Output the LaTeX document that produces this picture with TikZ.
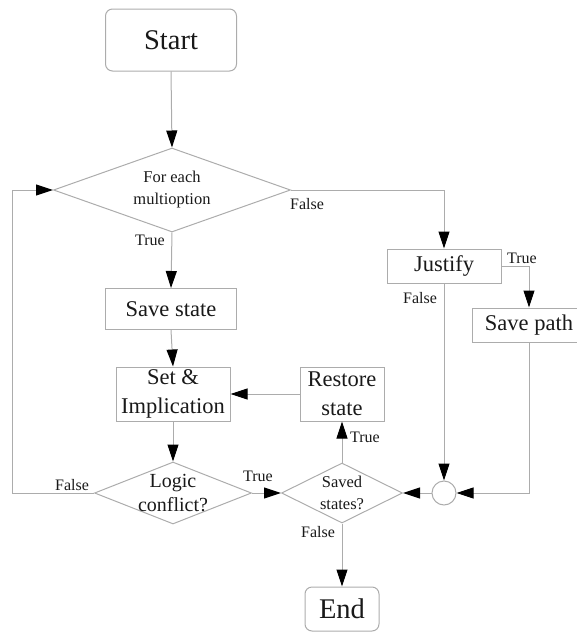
\documentclass[tikz,border=0pt]{standalone}
\usepackage{fontspec}
\setmainfont{Liberation Serif}
\usetikzlibrary{arrows.meta}
\usetikzlibrary{shapes.geometric}
\definecolor{linegray}{RGB}{172,172,172}
\definecolor{inkgray}{RGB}{25,25,25}

\begin{document}
\begin{tikzpicture}[x=1pt,y=-1pt,
	line/.style={draw=linegray, line width=1pt},
	flow/.style={line, -{Triangle[length=17pt,width=11pt,black]}},
	box/.style={draw=linegray, line width=1pt, rectangle, inner sep=0pt,
		align=center, text=inkgray, font=\fontsize{22.5}{29}\selectfont},
	term/.style={box, rounded corners=7pt, font=\fontsize{28.5}{30}\selectfont},
	test/.style={draw=linegray, line width=1pt, diamond, inner sep=0pt},
	testtext/.style={inner sep=0pt, align=center, text=inkgray, font=\fontsize{16.5}{22}\selectfont},
	joint/.style={draw=linegray, line width=1pt, circle, inner sep=0pt, minimum size=24pt},
	tag/.style={inner sep=0pt, text=inkgray, font=\fontsize{16}{18}\selectfont}]
	\useasboundingbox (0,0) rectangle (576,632);

	\node[term, minimum width=131pt, minimum height=62pt] (start) at (171,40) {Start};
	\node[test, minimum width=237pt, minimum height=84pt] (multi) at (172,190) {};
	\node[testtext] (multitext) at (multi) {For each\\multioption};
	\node[box, minimum width=131pt, minimum height=41pt] (save) at (171,309) {Save state};
	\node[box, minimum width=114pt, minimum height=54pt] (setimp) at (173,394) {Set \&\\Implication};
	\node[box, minimum width=84pt, minimum height=54pt] (restore) at (342,394) {Restore\\state};
	\node[test, minimum width=157pt, minimum height=62pt] (logic) at (173,493) {};
	\node[testtext, font=\fontsize{20}{24}\selectfont] (logictext) at (logic) {Logic\\conflict?};
	\node[test, minimum width=121pt, minimum height=60pt] (saved) at (342,493) {};
	\node[testtext] (savedtext) at (saved) {Saved\\states?};
	\node[joint] (merge) at (444,493) {};
	\node[box, minimum width=114pt, minimum height=34pt] (justify) at (444,266) {Justify};
	\node[box, minimum width=114pt, minimum height=34pt] (savepath) at (529,325) {Save path};
	\node[term, minimum width=74pt, minimum height=44pt] (end) at (342,609) {End};
	\coordinate (loopcorner) at (12,493);

	\draw[flow] (start.south) -- (multi.north);
	\draw[flow] (multi.south) -- (save.north);
	\draw[flow] (save.south) -- (setimp.north);
	\draw[flow] (setimp.south) -- (logic.north);
	\draw[flow] (logic.west) -- (loopcorner) |- (multi.west);
	\draw[flow] (logic.east) -- (saved.west);
	\draw[flow] (saved.north) -- (restore.south);
	\draw[flow] (restore.west) -- (setimp.east);
	\draw[flow] (saved.south) -- (end.north);
	\draw[flow] (multi.east) -| (justify.north);
	\draw[flow] (justify.east) -| (savepath.north);
	\draw[flow] (justify.south) -- (merge.north);
	\draw[flow] (savepath.south) |- (merge.east);
	\draw[flow] (merge.west) -- (saved.east);

	\node[tag] (truemulti) at (150,240) {True};
	\node[tag] (falsemulti) at (307,204) {False};
	\node[tag] (truejust) at (522,258) {True};
	\node[tag] (falsejust) at (420,298) {False};
	\node[tag] (falselogic) at (72,485) {False};
	\node[tag] (truelogic) at (258,476) {True};
	\node[tag] (truesaved) at (365,437) {True};
	\node[tag] (falsesaved) at (318,532) {False};
\end{tikzpicture}
\end{document}
